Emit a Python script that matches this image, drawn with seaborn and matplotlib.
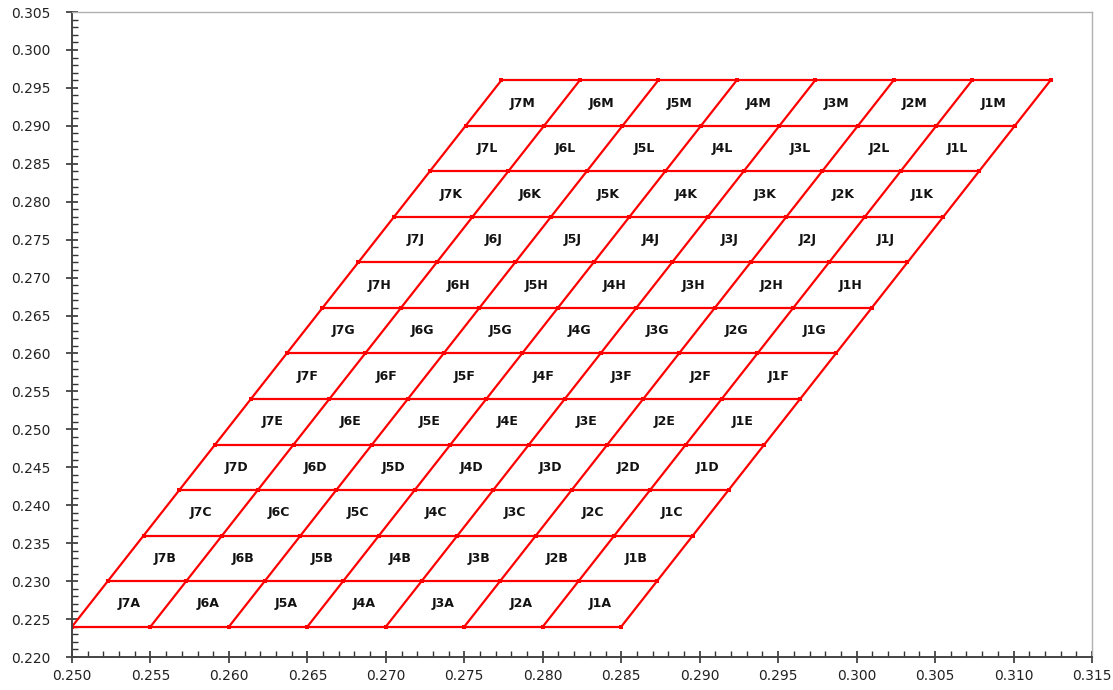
import numpy as np
import pandas as pd
import matplotlib
matplotlib.use("Agg")
import matplotlib.pyplot as plt
import seaborn as sns
from matplotlib.ticker import MultipleLocator, FormatStrFormatter

# grid
col_names = ["J7", "J6", "J5", "J4", "J3", "J2", "J1"]
row_names = ["A", "B", "C", "D", "E", "F", "G", "H", "J", "K", "L", "M"]
col_edges = [0.250, 0.255, 0.260, 0.265, 0.270, 0.275, 0.280, 0.285]  # bottom row x edges
row_edges = [0.224, 0.230, 0.236, 0.242, 0.248, 0.254, 0.260, 0.266,
             0.272, 0.278, 0.284, 0.290, 0.296]
row_shift = 0.00228  # x offset per row (slant)

sns.set_theme(style="white")
plt.rcParams["font.family"] = ["DejaVu Sans"]

fig, ax = plt.subplots(figsize=(11.13, 6.9), dpi=100)
fig.subplots_adjust(left=0.0647, right=0.9811, bottom=0.0478, top=0.9826)

# build segments
segs = []
sid = 0
for i, y in enumerate(row_edges):
    xs = [col_edges[0] + i * row_shift, col_edges[-1] + i * row_shift]
    for x in xs:
        segs.append({"seg": sid, "x": x, "y": y, "kind": "h"})
    sid += 1
for c in col_edges:
    for i, y in enumerate(row_edges):
        segs.append({"seg": sid, "x": c + i * row_shift, "y": y, "kind": "s"})
    sid += 1
lines = pd.DataFrame(segs)

sns.lineplot(data=lines[lines.kind == "h"], x="x", y="y", units="seg",
             estimator=None, sort=False, color="#ff0000", linewidth=1.6, ax=ax)
sns.lineplot(data=lines[lines.kind == "s"], x="x", y="y", units="seg",
             estimator=None, sort=False, color="#ff0000", linewidth=1.6,
             marker="s", markersize=2.5, markeredgewidth=0, ax=ax)

# cell labels
for r, rn in enumerate(row_names):
    yc = (row_edges[r] + row_edges[r + 1]) / 2
    for c, cn in enumerate(col_names):
        xc = (col_edges[c] + col_edges[c + 1]) / 2 + r * row_shift + row_shift / 2
        ax.text(xc, yc, cn + rn, ha="center", va="center", fontsize=9,
                fontweight="bold", color="#111111")

ax.set_xlim(0.250, 0.315)
ax.set_ylim(0.220, 0.305)
ax.set_xlabel("")
ax.set_ylabel("")
ax.xaxis.set_major_locator(MultipleLocator(0.005))
ax.xaxis.set_minor_locator(MultipleLocator(0.001))
ax.yaxis.set_major_locator(MultipleLocator(0.005))
ax.yaxis.set_minor_locator(MultipleLocator(0.001))
ax.xaxis.set_major_formatter(FormatStrFormatter("%.3f"))
ax.yaxis.set_major_formatter(FormatStrFormatter("%.3f"))
ax.tick_params(which="major", direction="inout", length=9, width=1.2,
               color="#333333", labelsize=10, labelcolor="#222222")
ax.tick_params(which="minor", direction="in", length=4, width=1, color="#333333")
ax.tick_params(axis="x", which="both", bottom=True, top=False, pad=4)
ax.tick_params(axis="y", which="both", left=True, right=False, pad=11)

for s in ["left", "bottom"]:
    ax.spines[s].set_color("#444444")
    ax.spines[s].set_linewidth(1.4)
for s in ["top", "right"]:
    ax.spines[s].set_color("#b0b0b0")
    ax.spines[s].set_linewidth(1.0)

fig.savefig("out.png", dpi=100)
